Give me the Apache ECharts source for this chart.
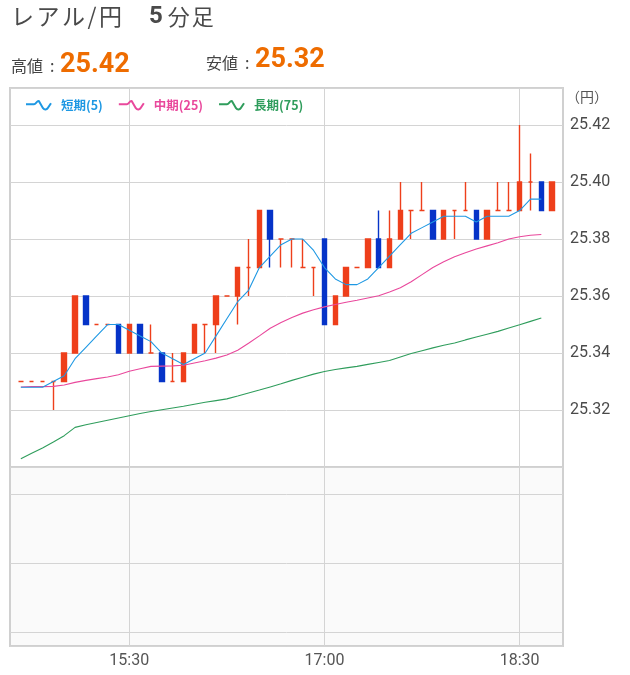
<!DOCTYPE html>
<html><head><meta charset="utf-8">
<script src="https://cdn.jsdelivr.net/npm/echarts@6/dist/echarts.min.js"></script>
<style>html,body{margin:0;padding:0;background:#fff}#c{width:630px;height:675px}</style>
</head><body><div id="c"></div>
<script>
// ---- data ----
const categories = ['14:35','14:40','14:45','14:50','14:55','15:00','15:05','15:10','15:15','15:20','15:25','15:30','15:35','15:40','15:45','15:50','15:55','16:00','16:05','16:10','16:15','16:20','16:25','16:30','16:35','16:40','16:45','16:50','16:55','17:00','17:05','17:10','17:15','17:20','17:25','17:30','17:35','17:40','17:45','17:50','17:55','18:00','18:05','18:10','18:15','18:20','18:25','18:30','18:35','18:40','18:45','18:50'];
const tickTimes = ['15:30','17:00','18:30'];
// [open, close, low, high]
const candles = [
 ['-','-','-','-'],
 [25.33,25.33,25.33,25.33],[25.33,25.33,25.33,25.33],[25.33,25.33,25.33,25.33],[25.33,25.33,25.32,25.33],
 [25.33,25.34,25.33,25.34],[25.34,25.36,25.34,25.36],[25.36,25.35,25.35,25.36],[25.35,25.35,25.35,25.35],
 [25.35,25.35,25.35,25.35],[25.35,25.34,25.34,25.35],[25.34,25.35,25.34,25.35],[25.35,25.34,25.34,25.35],
 [25.34,25.34,25.34,25.35],[25.34,25.33,25.33,25.34],[25.33,25.33,25.33,25.34],[25.33,25.34,25.33,25.34],
 [25.34,25.35,25.34,25.35],[25.35,25.35,25.34,25.35],[25.35,25.36,25.34,25.36],[25.36,25.36,25.36,25.36],
 [25.36,25.37,25.35,25.37],[25.37,25.37,25.36,25.38],[25.37,25.39,25.37,25.39],[25.39,25.38,25.37,25.39],
 [25.38,25.38,25.37,25.38],[25.38,25.38,25.37,25.38],[25.37,25.37,25.37,25.38],[25.37,25.37,25.36,25.37],
 [25.38,25.35,25.35,25.38],[25.35,25.36,25.35,25.36],[25.36,25.37,25.36,25.37],[25.37,25.37,25.37,25.37],
 [25.37,25.38,25.37,25.38],[25.38,25.37,25.37,25.39],[25.37,25.38,25.37,25.39],[25.38,25.39,25.38,25.40],
 [25.39,25.39,25.38,25.39],[25.39,25.39,25.39,25.40],[25.39,25.38,25.38,25.39],[25.38,25.39,25.38,25.39],
 [25.39,25.39,25.38,25.39],[25.39,25.39,25.39,25.40],[25.39,25.38,25.38,25.39],[25.38,25.39,25.38,25.39],
 [25.39,25.39,25.39,25.40],[25.39,25.39,25.39,25.40],[25.39,25.40,25.39,25.42],[25.40,25.40,25.39,25.41],
 [25.40,25.39,25.39,25.40],[25.39,25.40,25.39,25.40],
 ['-','-','-','-']
];
const ma5 = ['-',25.328,25.328,25.328,25.330,25.332,25.338,25.342,25.346,25.350,25.350,25.348,25.346,25.344,25.340,25.338,25.336,25.338,25.340,25.346,25.352,25.358,25.362,25.370,25.374,25.378,25.380,25.380,25.376,25.370,25.366,25.364,25.364,25.366,25.370,25.374,25.378,25.382,25.384,25.386,25.388,25.388,25.388,25.386,25.388,25.388,25.388,25.390,25.394,25.394,'-','-'];
const ma25 = ['-',25.3281,25.3282,25.3282,25.3283,25.3288,25.3297,25.3304,25.3310,25.3316,25.3324,25.3336,25.3345,25.3353,25.3354,25.3355,25.3357,25.3365,25.3373,25.3382,25.3393,25.3410,25.3434,25.3460,25.3487,25.3507,25.3525,25.3540,25.3552,25.3562,25.3570,25.3578,25.3585,25.3593,25.3601,25.3614,25.3629,25.3650,25.3675,25.3700,25.3720,25.3738,25.3752,25.3765,25.3776,25.3787,25.3800,25.3808,25.3813,25.3816,'-','-'];
const ma75 = ['-',25.3029,25.3048,25.3067,25.3088,25.3110,25.3139,25.3148,25.3156,25.3164,25.3172,25.3180,25.3188,25.3195,25.3201,25.3207,25.3213,25.3220,25.3227,25.3233,25.3239,25.3249,25.3260,25.3270,25.3281,25.3292,25.3304,25.3315,25.3326,25.3335,25.3342,25.3348,25.3353,25.3360,25.3367,25.3374,25.3386,25.3398,25.3408,25.3418,25.3427,25.3435,25.3446,25.3456,25.3466,25.3476,25.3488,25.3499,25.3511,25.3523,'-','-'];
const highText = '25.42';
const lowText = '25.32';
const yTickLabels = ['25.32','25.34','25.36','25.38','25.40','25.42'];

// ---- styles ----
const C_UP = '#ee3f1b', C_DN = '#0634c8';
const C5 = '#1e98e3', C25 = '#e9489c', C75 = '#2f9d5c';
const GRID_LINE = '#d4d4d4';
const JP = '"Noto Sans CJK JP", "Noto Sans", sans-serif';
const NUM = 'Roboto, "Noto Sans", sans-serif';
const wave = 'path://M0,4 L8,4 C10,4 11,0 13,1 L17,8 C18.5,10 21,9.5 22,7.5 L25,3';
const showTick = (i, v) => tickTimes.indexOf(v !== undefined ? v : categories[i]) >= 0;
const GRAY = '#4a4a4a';
const lbl = {fontSize: 16, fontWeight: 'normal', color: '#444', fontFamily: JP};

const chart = echarts.init(document.getElementById('c'), null, {renderer: 'canvas'});
chart.setOption({
  animation: false,
  backgroundColor: '#fff',
  title: [
    {text: '{s|レ}{s|ア}{s|ル}{s|/}{s|円}', left: 11, top: 5, padding: 0,
     textStyle: {fontWeight: 'normal', rich: {s: {fontSize: 23, fontWeight: 'normal', color: GRAY, fontFamily: JP, padding: [0, 2.5, 0, 0]}}}},
    {text: '{b|5}{s|分}{s|足}', left: 149, top: 5, padding: 0,
     textStyle: {fontWeight: 'normal', rich: {b: {fontSize: 24, fontWeight: 'bold', color: GRAY, fontFamily: NUM, padding: [0, 5, 0, 0]},
                        s: {fontSize: 22, fontWeight: 'normal', color: GRAY, fontFamily: JP, padding: [0, 2, 0, 0]}}}},
    {text: '{a|高値}{c|:}', left: 11, top: 58, padding: 0,
     textStyle: {fontWeight: 'normal', rich: {a: Object.assign({padding: [0, 7, 0, 0]}, lbl), c: lbl}}},
    {text: highText, left: 60, top: 52, padding: 0, textStyle: {fontSize: 27, fontWeight: 'bold', color: '#ee6c00', fontFamily: NUM}},
    {text: '{a|安値}{c|:}', left: 206, top: 55, padding: 0,
     textStyle: {fontWeight: 'normal', rich: {a: Object.assign({padding: [0, 7, 0, 0]}, lbl), c: lbl}}},
    {text: lowText, left: 255, top: 47, padding: 0, textStyle: {fontSize: 27, fontWeight: 'bold', color: '#ee6c00', fontFamily: NUM}},
    {text: '（円）', left: 566, top: 90, padding: 0, textStyle: {fontSize: 14, fontWeight: 'normal', color: '#555', fontFamily: JP}}
  ],
  legend: {
    left: 20, top: 94, itemWidth: 25, itemHeight: 9, itemGap: 15, icon: wave,
    textStyle: {fontSize: 12.5, fontWeight: 'bold', fontFamily: JP, padding: [0, 0, 0, 5]},
    data: [
      {name: '短期(5)', itemStyle: {color: 'transparent', borderColor: C5, borderWidth: 2}, textStyle: {color: C5}},
      {name: '中期(25)', itemStyle: {color: 'transparent', borderColor: C25, borderWidth: 2}, textStyle: {color: C25}},
      {name: '長期(75)', itemStyle: {color: 'transparent', borderColor: C75, borderWidth: 2}, textStyle: {color: C75}}
    ]
  },
  grid: [
    {left: 10, right: 67, top: 88, height: 379, show: true, borderColor: '#d0d0d0', borderWidth: 2, backgroundColor: '#fff'},
    {left: 10, right: 67, top: 467, height: 179, show: true, borderColor: '#d0d0d0', borderWidth: 2, backgroundColor: '#fafafa'}
  ],
  xAxis: [
    {type: 'category', gridIndex: 0, data: categories, boundaryGap: false,
     axisLine: {show: false}, axisTick: {show: false}, axisLabel: {show: false},
     splitLine: {show: true, interval: showTick, lineStyle: {color: GRID_LINE, width: 1}}},
    {type: 'category', gridIndex: 1, data: categories, boundaryGap: false,
     axisLine: {show: false}, axisTick: {show: false},
     axisLabel: {show: true, interval: showTick, color: '#555', fontSize: 16, fontFamily: NUM, margin: 7},
     splitLine: {show: true, interval: showTick, lineStyle: {color: GRID_LINE, width: 1}}}
  ],
  yAxis: [
    {type: 'value', gridIndex: 0, position: 'right', min: 25.30, max: 25.433, interval: 0.02,
     axisLine: {show: false}, axisTick: {show: false},
     axisLabel: {color: GRAY, fontSize: 16, fontFamily: NUM, margin: 7,
                 formatter: v => { const s = v.toFixed(2); return yTickLabels.indexOf(s) >= 0 ? s : ''; }},
     splitLine: {show: true, lineStyle: {color: GRID_LINE, width: 1}}},
    {type: 'value', gridIndex: 1, position: 'right', min: -14 / 69, max: 165 / 69, splitNumber: 3,
     axisLine: {show: false}, axisTick: {show: false}, axisLabel: {show: false},
     splitLine: {show: true, lineStyle: {color: GRID_LINE, width: 1}}}
  ],
  series: [
    {type: 'candlestick', name: 'ローソク足', xAxisIndex: 0, yAxisIndex: 0, data: candles, barWidth: 5, z: 2,
     itemStyle: {color: C_UP, color0: C_DN, borderColor: C_UP, borderColor0: C_DN, borderColorDoji: C_UP, borderWidth: 1.4}},
    {type: 'line', name: '短期(5)', data: ma5, symbol: 'none', z: 5, lineStyle: {color: C5, width: 1.1}, itemStyle: {color: C5}},
    {type: 'line', name: '中期(25)', data: ma25, symbol: 'none', z: 4, lineStyle: {color: C25, width: 1.1}, itemStyle: {color: C25}},
    {type: 'line', name: '長期(75)', data: ma75, symbol: 'none', z: 3, lineStyle: {color: C75, width: 1.1}, itemStyle: {color: C75}},
    {type: 'line', name: 'sub', xAxisIndex: 1, yAxisIndex: 1, data: [], symbol: 'none'}
  ]
});
</script></body></html>
